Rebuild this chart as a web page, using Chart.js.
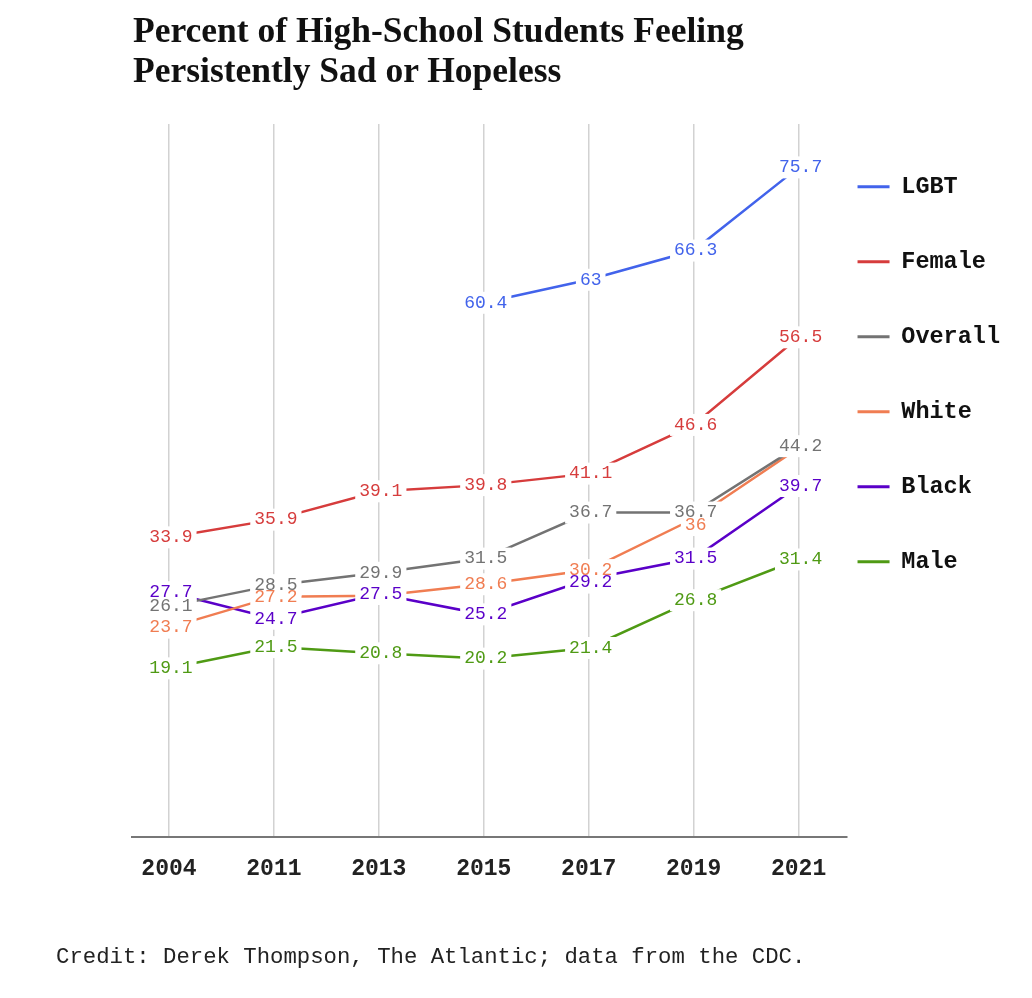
<!DOCTYPE html>
<html>
<head>
<meta charset="utf-8">
<title>Percent of High-School Students Feeling Persistently Sad or Hopeless</title>
<script src="https://cdn.jsdelivr.net/npm/chart.js@4.4.1/dist/chart.umd.min.js"></script>
<style>
  html, body { margin: 0; padding: 0; background: #fff; }
  #wrap { position: relative; width: 1032px; height: 998px; }
  #chart { position: absolute; left: 0; top: 0; }
  h1 {
    position: absolute; left: 133px; top: 10px; margin: 0;
    font: bold 35.5px/40px "Liberation Serif", serif; color: #111;
  }
  .credit {
    position: absolute; left: 56px; top: 944px; margin: 0;
    font: 22.3px/26px "Liberation Mono", monospace; color: #222;
  }
</style>
</head>
<body>
<div id="wrap">
  <canvas id="chart" width="1032" height="998"></canvas>
  <h1>Percent of High-School Students Feeling<br>Persistently Sad or Hopeless</h1>
  <p class="credit">Credit: Derek Thompson, The Atlantic; data from the CDC.</p>
</div>
<script>
// survey years (x categories)
const years = ['2004', '2011', '2013', '2015', '2017', '2019', '2021'];

// series values, percent
const lgbt    = [null, null, null, 60.4, 63, 66.3, 75.7];
const female  = [33.9, 35.9, 39.1, 39.8, 41.1, 46.6, 56.5];
const overall = [26.1, 28.5, 29.9, 31.5, 36.7, 36.7, 44.2];
const white   = [23.7, 27.2, 27.3, 28.6, 30.2, 36, 44];
const black   = [27.7, 24.7, 27.5, 25.2, 29.2, 31.5, 39.7];
const male    = [19.1, 21.5, 20.8, 20.2, 21.4, 26.8, 31.4];

const seriesNames = ['LGBT', 'Female', 'Overall', 'White', 'Black', 'Male'];
const seriesValues = [lgbt, female, overall, white, black, male];
const seriesColors = ['#4263eb', '#d63c3c', '#737373', '#f07d52', '#5a00c8', '#4f9a14'];

const labelFont = '18px "Liberation Mono", monospace';

// value labels with white boxes over the lines; near-identical labels keep the
// higher value, touching ones are pushed apart
const pointLabels = {
    id: 'pointLabels',
    afterDatasetsDraw(chart) {
        const ctx = chart.ctx;
        ctx.save();
        ctx.font = labelFont;
        ctx.textAlign = 'center';
        ctx.textBaseline = 'middle';

        const minGap = 12.5;
        const items = [];
        years.forEach((yr, j) => {
            const col = [];
            chart.data.datasets.forEach((ds, i) => {
                const v = seriesValues[i][j];
                if (v === null) return;
                const pt = chart.getDatasetMeta(i).data[j];
                col.push({ x: pt.x + 2, y: pt.y, v: v, color: seriesColors[i], text: String(v) });
            });
            col.sort((a, b) => a.y - b.y);
            const kept = [];
            col.forEach(it => {
                const prev = kept[kept.length - 1];
                if (prev && it.y - prev.y < 4) {
                    if (it.v > prev.v) kept[kept.length - 1] = it;
                    return;
                }
                if (prev && it.y - prev.y < minGap && it.y - prev.y > 5) it.y = prev.y + minGap;
                kept.push(it);
            });
            items.push(...kept);
        });

        // backgrounds first, then all the texts
        items.forEach(it => {
            const w = ctx.measureText(it.text).width;
            ctx.fillStyle = '#fff';
            ctx.fillRect(it.x - w / 2 - 4, it.y - 11, w + 8, 22);
        });
        items.forEach(it => {
            ctx.fillStyle = it.color;
            ctx.fillText(it.text, it.x, it.y);
        });
        ctx.restore();
    }
};

new Chart(document.getElementById('chart'), {
    type: 'line',
    data: {
        datasets: seriesNames.map((name, i) => ({
            label: name,
            data: seriesValues[i].map((v, j) => ({ x: j, y: v })),
            borderColor: seriesColors[i],
            backgroundColor: seriesColors[i],
            borderWidth: 2.5,
            pointRadius: 0,
            pointHoverRadius: 0,
            tension: 0,
            fill: false
        }))
    },
    options: {
        responsive: false,
        animation: false,
        layout: {
            padding: { left: 132, top: 124, right: 22, bottom: 97 }
        },
        scales: {
            x: {
                type: 'linear',
                min: -0.352,
                max: 6.457,
                grid: { color: '#d2d2d2', lineWidth: 1.5, drawTicks: false },
                border: { display: true, color: '#777', width: 2 },
                ticks: {
                    stepSize: 1,
                    includeBounds: false,
                    autoSkip: false,
                    maxRotation: 0,
                    padding: 18,
                    color: '#222',
                    font: { family: '"Liberation Mono", monospace', size: 23, weight: 'bold' },
                    callback: value => years[value]
                }
            },
            y: {
                display: false,
                min: 0,
                max: 80.6
            }
        },
        plugins: {
            legend: {
                position: 'right',
                align: 'start',
                title: { display: true, text: '', padding: 0, font: { size: 1, lineHeight: '40px' } },
                labels: {
                    boxWidth: 32,
                    boxHeight: 3,
                    padding: 11,
                    color: '#111',
                    font: { family: '"Liberation Mono", monospace', size: 23.5, weight: 'bold', lineHeight: '64px' },
                    generateLabels(chart) {
                        return Chart.defaults.plugins.legend.labels.generateLabels(chart).map(item => {
                            item.text = [item.text];
                            item.fillStyle = item.strokeStyle;
                            item.lineWidth = 0;
                            return item;
                        });
                    }
                }
            },
            tooltip: { enabled: false }
        }
    },
    plugins: [pointLabels]
});
</script>
</body>
</html>
